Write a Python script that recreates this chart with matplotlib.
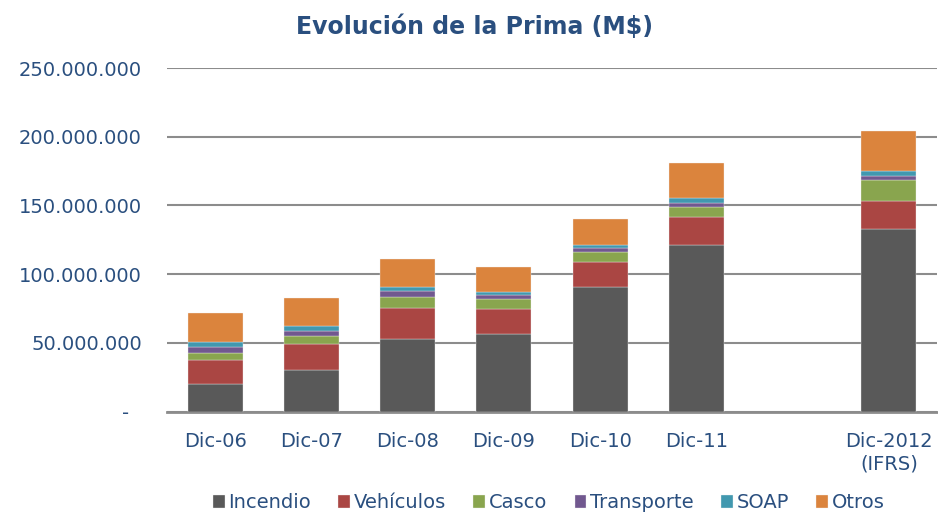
import numpy as np
import matplotlib.pyplot as plt
from matplotlib.ticker import FuncFormatter

categories = ["Dic-06", "Dic-07", "Dic-08", "Dic-09", "Dic-10", "Dic-11", "Dic-2012\n(IFRS)"]
positions = [0, 1, 2, 3, 4, 5, 7]

# millions of pesos
incendio   = [20.2, 30.2, 52.5, 56.1, 90.3, 120.9, 132.5]
vehiculos  = [17.5, 19.1, 23.0, 18.7, 18.6, 20.6, 20.8]
casco      = [5.1, 5.8, 7.6, 7.0, 7.3, 7.4, 15.1]
transporte = [4.3, 3.7, 4.8, 2.7, 2.9, 3.2, 3.1]
soap       = [3.7, 3.6, 2.4, 2.6, 2.0, 3.4, 3.4]
otros      = [20.6, 20.1, 20.6, 17.8, 18.7, 25.0, 29.6]

series = [("Incendio", incendio, "#595959"),
          ("Vehículos", vehiculos, "#aa4643"),
          ("Casco", casco, "#89a54e"),
          ("Transporte", transporte, "#71588f"),
          ("SOAP", soap, "#4198af"),
          ("Otros", otros, "#db843d")]

text_col = "#2a4f7f"

fig = plt.figure(figsize=(9.38, 5.14), dpi=100)
ax = fig.add_axes([0.178, 0.1994, 0.821, 0.6683])

bottom = np.zeros(len(positions))
for name, vals, col in series:
    v = np.array(vals) * 1e6
    ax.bar(positions, v, 0.57, bottom=bottom, color=col, label=name,
           edgecolor="#f2f2f2", linewidth=0.25, zorder=3)
    bottom += v

ax.set_xlim(-0.5, 7.5)
ax.set_ylim(0, 250e6)
ax.set_yticks(np.arange(0, 250e6 + 1, 50e6))

def fmt(x, pos):
    if x == 0:
        return "-  "
    return f"{int(x):,}".replace(",", ".")

ax.yaxis.set_major_formatter(FuncFormatter(fmt))
ax.set_xticks(positions)
ax.set_xticklabels(categories)
ax.tick_params(axis="both", length=0, labelsize=14, labelcolor=text_col)
ax.tick_params(axis="y", pad=18)
ax.tick_params(axis="x", pad=15)

ax.grid(axis="y", color="#8c8c8c", linewidth=1.5, zorder=0)
for s in ["top", "right", "left"]:
    ax.spines[s].set_visible(False)
ax.spines["bottom"].set_color("#8c8c8c")
ax.spines["bottom"].set_linewidth(2)

fig.text(0.506, 0.947, "Evolución de la Prima (M$)", ha="center", va="center",
         fontsize=17, fontweight="bold", color=text_col)

leg = fig.legend(loc="center", bbox_to_anchor=(0.585, 0.022), ncol=6, frameon=False,
                 fontsize=14, handlelength=0.6, handleheight=0.6, handletextpad=0.2,
                 columnspacing=1.4, labelcolor=text_col)

fig.savefig("out.png", dpi=100)
